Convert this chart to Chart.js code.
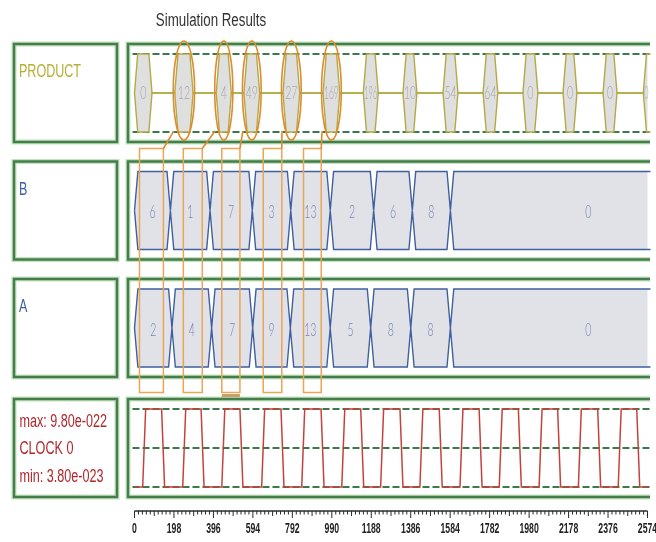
<!DOCTYPE html>
<html>
<head>
<meta charset="utf-8">
<title>Simulation Results</title>
<script src="https://cdn.jsdelivr.net/npm/chart.js@4.4.1/dist/chart.umd.min.js"></script>
<style>
  body { margin: 0; background: #fff; }
  canvas { display: block; }
</style>
</head>
<body>
<canvas id="wave" width="656" height="542"></canvas>
<script>
// values, times in ruler units
const titleText = 'Simulation Results';
const signalNames = ['PRODUCT', 'B', 'A'];

const productValues = ['0', '12', '4', '49', '27', '169', '196', '10', '54', '64', '0', '0', '0', '0'];
const productStart = [0, 202, 410, 549, 745, 946, 1148, 1347, 1548, 1749, 1949, 2150, 2351, 2553];
const productEnd = [88, 294, 486, 628, 829, 1030, 1223, 1417, 1623, 1823, 2024, 2220, 2421, 2625];

const bValues = ['6', '1', '7', '3', '13', '2', '6', '8', '0'];
const bEdges = [180, 379, 591, 784, 982, 1200, 1394, 1585];
const aValues = ['2', '4', '7', '9', '13', '5', '8', '8', '0'];
const aEdges = [188, 387, 593, 782, 982, 1185, 1386, 1585];
const busEnd = 2970;

const clockRise = [41, 242, 438, 638, 839, 1040, 1235, 1432, 1633, 1830, 2030, 2227, 2427];
const clockFall = [136, 334, 529, 735, 936, 1135, 1332, 1529, 1729, 1926, 2123, 2324, 2520];
const clockInfo = ['max: 9.80e-022', 'CLOCK 0', 'min: 3.80e-023'];

const rulerTicks = [0, 198, 396, 594, 792, 990, 1188, 1386, 1584, 1782, 1980, 2178, 2376, 2574];
const rulerLabels = ['0', '198', '396', '594', '792', '990', '1188', '1386', '1584', '1782', '1980', '2178', '2376', '2574'];

// orange marks somebody drew over the screenshot
const highlightStart = [25, 245, 438, 646, 848];
const highlightEnd = [145, 340, 529, 739, 937];
const circledProducts = [1, 2, 3, 4, 5];

// lane layout (y units = px below the top of the plot)
const laneTops = [0, 117.5, 235, 355];
const laneHeight = 98;
const hiY = lane => laneTops[lane] + 10;
const loY = lane => laneTops[lane] + 88;
const midY = lane => laneTops[lane] + 49;
const slew = 15, busSlant = 17, hexSlant = 16;

const olive = '#b3aa45', blue = '#3f5f9e', red = '#c2433b';
const green = '#447f4b', dashGreen = '#3b7a4e';

// bus outline: top and bottom line, filled between them
function busOutline(edges, lane) {
    let top = [{x: 0, y: midY(lane)}, {x: busSlant, y: hiY(lane)}];
    let bot = [{x: 0, y: midY(lane)}, {x: busSlant, y: loY(lane)}];
    edges.forEach(t => {
        top.push({x: t - busSlant, y: hiY(lane)}, {x: t, y: midY(lane)}, {x: t + busSlant, y: hiY(lane)});
        bot.push({x: t - busSlant, y: loY(lane)}, {x: t, y: midY(lane)}, {x: t + busSlant, y: loY(lane)});
    });
    top.push({x: busEnd, y: hiY(lane)});
    bot.push({x: busEnd, y: loY(lane)});
    return [top, bot];
}

// product is only valid for a short time each cycle, high-Z in between
function productOutline(lane) {
    let top = [], bot = [];
    productStart.forEach((s, i) => {
        const e = productEnd[i];
        top.push({x: s, y: midY(lane)}, {x: s + hexSlant, y: hiY(lane)}, {x: e - hexSlant, y: hiY(lane)}, {x: e, y: midY(lane)});
        bot.push({x: s, y: midY(lane)}, {x: s + hexSlant, y: loY(lane)}, {x: e - hexSlant, y: loY(lane)}, {x: e, y: midY(lane)});
    });
    return [top, bot];
}

function clockPoints(lane) {
    let pts = [{x: 0, y: loY(lane)}];
    clockRise.forEach((r, i) => {
        const f = clockFall[i];
        pts.push({x: r, y: loY(lane)}, {x: r + slew, y: hiY(lane)}, {x: f, y: hiY(lane)}, {x: f + slew, y: loY(lane)});
    });
    pts.push({x: 2574, y: loY(lane)});
    return pts;
}

const [pTop, pBot] = productOutline(0);
const [bTop, bBot] = busOutline(bEdges, 1);
const [aTop, aBot] = busOutline(aEdges, 2);

// text helper, the screenshot text is squeezed sideways
function squeezeText(ctx, str, x, y, font, color, sx, align, maxW) {
    ctx.save();
    ctx.translate(x, y);
    ctx.scale(sx, 1);
    ctx.font = font;
    ctx.fillStyle = color;
    ctx.textAlign = align || 'left';
    ctx.textBaseline = 'alphabetic';
    if (maxW) ctx.fillText(str, 0, 0, maxW / sx);
    else ctx.fillText(str, 0, 0);
    ctx.restore();
}

function greenBox(ctx, x0, y0, x1, y1, closed) {
    [['#c4e2bf', 5], [green, 2.5]].forEach(([c, w]) => {
        ctx.beginPath();
        if (closed) {
            ctx.rect(x0, y0, x1 - x0, y1 - y0);
        } else {
            ctx.moveTo(x1, y0); ctx.lineTo(x0, y0); ctx.lineTo(x0, y1); ctx.lineTo(x1, y1);
        }
        ctx.strokeStyle = c;
        ctx.lineWidth = w;
        ctx.stroke();
    });
}

const digitFont = '300 17px Lato, "Open Sans", sans-serif';
const labelFont = '19px "Liberation Sans", Arial, sans-serif';

const wavePlugin = {
    id: 'wavePlugin',
    beforeDatasetsDraw(chart) {
        const {ctx, chartArea, scales: {x, y}} = chart;
        ctx.save();
        laneTops.forEach(top => {
            const y0 = y.getPixelForValue(top), y1 = y.getPixelForValue(top + laneHeight);
            greenBox(ctx, 14, y0, 117, y1, true);
            greenBox(ctx, chartArea.left - 6.5, y0, chartArea.right + 2.5, y1, false);
        });
        // dashed level guides for product and clock
        ctx.setLineDash([7, 3]);
        ctx.strokeStyle = dashGreen;
        ctx.lineWidth = 2.2;
        [hiY(0), loY(0), hiY(3), midY(3), loY(3)].forEach(v => {
            const py = y.getPixelForValue(v);
            ctx.beginPath();
            ctx.moveTo(chartArea.left - 2, py);
            ctx.lineTo(chartArea.right + 2, py);
            ctx.stroke();
        });
        ctx.restore();
    },
    afterDatasetsDraw(chart) {
        const {ctx, chartArea, scales: {x, y}} = chart;
        ctx.save();

        // values inside the buses
        productValues.forEach((v, i) => {
            const px0 = x.getPixelForValue(productStart[i]);
            const px1 = Math.min(x.getPixelForValue(productEnd[i]), chartArea.right + 2);
            if (px1 - px0 < 6) return;
            squeezeText(ctx, v, (px0 + px1) / 2, y.getPixelForValue(midY(0)) + 6, digitFont, '#a6a6a6', 0.62, 'center', px1 - px0 - 2);
        });
        [[bValues, bEdges, 1], [aValues, aEdges, 2]].forEach(([vals, edges, lane]) => {
            const bounds = [0].concat(edges, [busEnd]);
            vals.forEach((v, i) => {
                const cx = x.getPixelForValue((bounds[i] + bounds[i + 1]) / 2);
                squeezeText(ctx, v, cx, y.getPixelForValue(midY(lane)) + 7.5, digitFont, '#7585b0', 0.62, 'center');
            });
        });

        // signal names
        const nameColors = ['#b5b036', blue, blue];
        signalNames.forEach((n, i) => {
            squeezeText(ctx, n, 19, y.getPixelForValue(laneTops[i]) + 33, labelFont, nameColors[i], 0.66);
        });
        const clockBase = [28, 55, 83];
        clockInfo.forEach((t, i) => {
            squeezeText(ctx, t, 19.5, y.getPixelForValue(laneTops[3]) + clockBase[i], '18px "Liberation Sans", Arial, sans-serif', '#b0272d', 0.70);
        });

        // title
        squeezeText(ctx, titleText, 211, 26, '18px "Liberation Sans", Arial, sans-serif', '#333', 0.74, 'center');

        // time ruler
        const ry = chartArea.bottom;
        ctx.strokeStyle = '#2a2a2a';
        ctx.lineWidth = 1.6;
        ctx.beginPath();
        ctx.moveTo(x.getPixelForValue(rulerTicks[0]), ry);
        ctx.lineTo(x.getPixelForValue(rulerTicks[rulerTicks.length - 1]), ry);
        ctx.stroke();
        ctx.lineWidth = 1;
        rulerTicks.forEach((t, i) => {
            const px = x.getPixelForValue(t);
            ctx.beginPath();
            ctx.moveTo(px, ry);
            ctx.lineTo(px, ry + 7);
            ctx.stroke();
            if (i < rulerTicks.length - 1) {
                const step = (rulerTicks[i + 1] - t) / 10;
                for (let k = 1; k < 10; k++) {
                    const mx = x.getPixelForValue(t + k * step);
                    ctx.beginPath();
                    ctx.moveTo(mx, ry);
                    ctx.lineTo(mx, ry + (k === 5 ? 5 : 3.5));
                    ctx.stroke();
                }
            }
            squeezeText(ctx, rulerLabels[i], px, ry + 22, 'bold 15px "Liberation Sans", Arial, sans-serif', '#222', 0.58, 'center');
        });

        // orange highlight marks
        const rTop = y.getPixelForValue(104.5), rBot = y.getPixelForValue(348.5);
        highlightStart.forEach((s, i) => {
            const x0 = x.getPixelForValue(s), x1 = x.getPixelForValue(highlightEnd[i]);
            ctx.strokeStyle = '#eca455';
            ctx.lineWidth = 1.5;
            ctx.strokeRect(x0, rTop, x1 - x0, rBot - rTop);
            if (i === 2) {
                ctx.strokeStyle = '#c9a066';
                ctx.lineWidth = 3;
                ctx.beginPath();
                ctx.moveTo(x0, rBot + 3);
                ctx.lineTo(x1, rBot + 3);
                ctx.stroke();
            }
            const j = circledProducts[i];
            const e0 = x.getPixelForValue(productStart[j]), e1 = x.getPixelForValue(productEnd[j]);
            const cx = (e0 + e1) / 2, rx = (e1 - e0) / 2 + 1.5;
            const cy = y.getPixelForValue(midY(0) - 2.5), rye = 49.5;
            ctx.strokeStyle = '#e08b2e';
            ctx.lineWidth = 1.6;
            ctx.beginPath();
            ctx.ellipse(cx, cy, rx, rye, 0, 0, Math.PI * 2);
            ctx.stroke();
            ctx.beginPath();
            ctx.moveTo(cx - rx * 0.95, cy + rye * 0.82);
            ctx.lineTo(x1, rTop);
            ctx.stroke();
        });
        ctx.restore();
    }
};

const lineStyle = {pointRadius: 0, borderWidth: 1.4, tension: 0, clip: {left: 3, right: 3, top: 5, bottom: 5}};

// upper outlines carry the fill, lower outlines are drawn after them (order 1)
new Chart(document.getElementById('wave'), {
    type: 'line',
    data: {
        datasets: [
            {...lineStyle, label: 'PRODUCT', data: pTop, borderColor: olive, backgroundColor: '#dfdfdf', fill: '+1', order: 2},
            {...lineStyle, label: 'PRODUCT low', data: pBot, borderColor: olive, fill: false, order: 1},
            {...lineStyle, label: 'B', data: bTop, borderColor: blue, backgroundColor: '#e1e2e8', fill: '+1', order: 2},
            {...lineStyle, label: 'B low', data: bBot, borderColor: blue, fill: false, order: 1},
            {...lineStyle, label: 'A', data: aTop, borderColor: blue, backgroundColor: '#e1e2e8', fill: '+1', order: 2},
            {...lineStyle, label: 'A low', data: aBot, borderColor: blue, fill: false, order: 1},
            {...lineStyle, label: 'CLOCK', data: clockPoints(3), borderColor: red, borderWidth: 1.5, fill: false, order: 1}
        ]
    },
    options: {
        responsive: false,
        animation: false,
        events: [],
        layout: {padding: {left: 134.5, right: 8.5, top: 44, bottom: 31}},
        plugins: {
            legend: {display: false},
            tooltip: {enabled: false}
        },
        scales: {
            x: {type: 'linear', min: 0, max: 2574, display: false},
            y: {type: 'linear', min: 0, max: 467, reverse: true, display: false}
        }
    },
    plugins: [wavePlugin]
});
</script>
</body>
</html>
